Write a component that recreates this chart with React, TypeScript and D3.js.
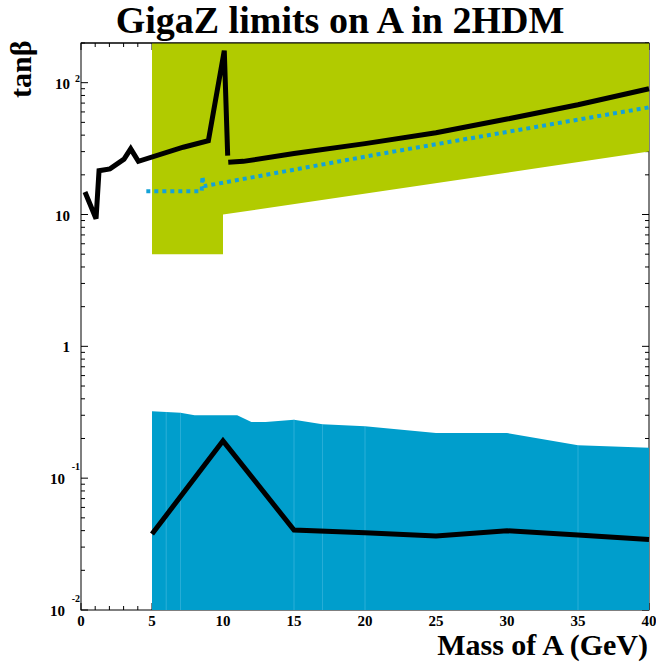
import React from "react";
import * as d3 from "d3";

// ---- data ----
const upperLineA: [number, number][] = [
  [0.28, 14.8], [1.06, 9.3], [1.27, 21.5], [2.04, 22.2], [3.03, 26.3], [3.5, 31.5],
  [4.04, 25.3], [7.2, 32.4], [8.97, 36.3], [10.09, 175], [10.33, 28],
];
const upperLineB: [number, number][] = [
  [10.37, 24.9], [11.43, 25.3], [15, 29], [20, 34.5], [25, 41.7], [30, 53], [35, 68], [40, 90],
];
const dottedLine: [number, number][] = [
  [4.6, 15], [8.5, 15], [8.55, 19.5], [8.65, 16.4], [21.05, 28.8], [40, 65],
];
const greenRegion: [number, number][] = [
  [5, 200], [40, 200], [40, 30], [10, 10], [10, 5], [5, 5],
];
const blueTop: [number, number][] = [
  [5, 0.322], [6, 0.318], [7, 0.313], [8, 0.3], [11, 0.3], [12, 0.267], [13, 0.267],
  [15, 0.278], [17, 0.257], [20, 0.248], [25, 0.22], [30, 0.22], [35, 0.178], [40, 0.17],
];
const blueSeams = [6, 7, 15, 17, 20, 35];
const lowerLine: [number, number][] = [
  [5, 0.0377], [10, 0.192], [15, 0.0404], [20, 0.0385], [25, 0.0365], [30, 0.0399], [35, 0.037], [40, 0.0343],
];
const xTicks = [0, 5, 10, 15, 20, 25, 30, 35, 40];
const yDecades = [0.01, 0.1, 1, 10, 100];
const yLabels: { v: number; base: string; sup: string }[] = [
  { v: 100, base: "10", sup: "2" },
  { v: 10, base: "10", sup: "" },
  { v: 1, base: "1", sup: "" },
  { v: 0.1, base: "10", sup: "-1" },
  { v: 0.01, base: "10", sup: "-2" },
];

const W = 656, H = 664;
const L = 81, R = 649, T = 43, B = 610;
const GREEN = "#b1cb00";
const BLUE = "#009ecc";
const DOT = "#14a2d8";
const FONT = "'Liberation Serif', 'Times New Roman', serif";

export default function App() {
  const x = d3.scaleLinear().domain([0, 40]).range([L, R]);
  const y = d3.scaleLog().domain([0.01, 200]).range([B, T]);
  const line = d3.line<[number, number]>().x((d) => x(d[0])).y((d) => y(d[1]));
  const area = d3
    .area<[number, number]>()
    .x((d) => x(d[0]))
    .y0(() => y(0.01))
    .y1((d) => y(d[1]));

  const minorX = d3.range(0, 41, 1).filter((v) => v % 5 !== 0);
  const minorY: number[] = [];
  for (const dec of [0.01, 0.1, 1, 10, 100]) {
    for (let k = 2; k <= 9; k++) {
      const v = dec * k;
      if (v <= 200) minorY.push(v);
    }
  }
  const blueAt = (xv: number) => {
    for (let i = 0; i < blueTop.length - 1; i++) {
      const [x0, y0] = blueTop[i];
      const [x1, y1] = blueTop[i + 1];
      if (xv >= x0 && xv <= x1) {
        const t = (xv - x0) / (x1 - x0);
        return Math.exp(Math.log(y0) + t * (Math.log(y1) - Math.log(y0)));
      }
    }
    return blueTop[blueTop.length - 1][1];
  };

  return (
    <svg
      width={W}
      height={H}
      style={{ position: "absolute", left: 0, top: 0, background: "#fff" }}
    >
      {/* frame */}
      <rect x={L} y={T} width={R - L} height={B - T} fill="none" stroke="#000" strokeWidth={1} />
      {/* x ticks */}
      {xTicks.map((v) => (
        <g key={"xt" + v}>
          <line x1={x(v)} x2={x(v)} y1={B} y2={B - 7} stroke="#000" />
          <line x1={x(v)} x2={x(v)} y1={T} y2={T + 7} stroke="#000" />
        </g>
      ))}
      {minorX.map((v) => (
        <g key={"xm" + v}>
          <line x1={x(v)} x2={x(v)} y1={B} y2={B - 4} stroke="#000" />
          <line x1={x(v)} x2={x(v)} y1={T} y2={T + 4} stroke="#000" />
        </g>
      ))}
      {/* y ticks */}
      {yDecades.map((v) => (
        <g key={"yt" + v}>
          <line x1={L} x2={L + 7} y1={y(v)} y2={y(v)} stroke="#000" />
          <line x1={R} x2={R - 7} y1={y(v)} y2={y(v)} stroke="#000" />
        </g>
      ))}
      {minorY.map((v) => (
        <g key={"ym" + v}>
          <line x1={L} x2={L + 4} y1={y(v)} y2={y(v)} stroke="#000" />
          <line x1={R} x2={R - 4} y1={y(v)} y2={y(v)} stroke="#000" />
        </g>
      ))}

      {/* green region */}
      <path d={(line(greenRegion) || "") + "Z"} fill={GREEN} />
      {/* blue region */}
      <path d={area(blueTop) || ""} fill={BLUE} />
      {blueSeams.map((v) => (
        <line
          key={"seam" + v}
          x1={x(v)}
          x2={x(v)}
          y1={y(0.01)}
          y2={y(blueAt(v))}
          stroke="#5cc3e6"
          strokeWidth={0.8}
          opacity={0.6}
        />
      ))}
      {/* top frame line on top of fills */}
      <line x1={L} x2={R} y1={T} y2={T} stroke="#000" strokeWidth={1} />

      {/* lines */}
      <path d={line(dottedLine) || ""} fill="none" stroke={DOT} strokeWidth={4} strokeDasharray="4 4" />
      <path d={line(upperLineA) || ""} fill="none" stroke="#000" strokeWidth={5} />
      <path d={line(upperLineB) || ""} fill="none" stroke="#000" strokeWidth={5} />
      <path d={line(lowerLine) || ""} fill="none" stroke="#000" strokeWidth={5} />

      {/* x tick labels */}
      {xTicks.map((v) => (
        <text
          key={"xl" + v}
          x={x(v)}
          y={626}
          textAnchor="middle"
          fontFamily={FONT}
          fontWeight="bold"
          fontSize={15}
        >
          {v}
        </text>
      ))}
      {/* y tick labels */}
      {yLabels.map((lb) => {
        const ty = y(lb.v);
        if (!lb.sup) {
          return (
            <text
              key={"yl" + lb.v}
              x={70}
              y={ty + 6}
              textAnchor="end"
              fontFamily={FONT}
              fontWeight="bold"
              fontSize={15}
            >
              {lb.base}
            </text>
          );
        }
        const neg = lb.sup.startsWith("-");
        return (
          <g key={"yl" + lb.v}>
            <text
              x={neg ? 65 : 70}
              y={ty + 6}
              textAnchor="end"
              fontFamily={FONT}
              fontWeight="bold"
              fontSize={15}
            >
              {lb.base}
            </text>
            <text
              x={80}
              y={neg ? ty - 8 : ty - 1}
              textAnchor="end"
              fontFamily={FONT}
              fontWeight="bold"
              fontSize={10}
            >
              {lb.sup}
            </text>
          </g>
        );
      })}

      {/* titles */}
      <text
        x={340}
        y={33}
        textAnchor="middle"
        fontFamily={FONT}
        fontWeight="bold"
        fontSize={38}
      >
        GigaZ limits on A in 2HDM
      </text>
      <text
        x={648}
        y={655}
        textAnchor="end"
        fontFamily={FONT}
        fontWeight="bold"
        fontSize={30}
      >
        Mass of A (GeV)
      </text>
      <text
        transform={`translate(31, 98) rotate(-90)`}
        textAnchor="start"
        fontFamily={FONT}
        fontWeight="bold"
        fontSize={30}
      >
        tanβ
      </text>
    </svg>
  );
}
